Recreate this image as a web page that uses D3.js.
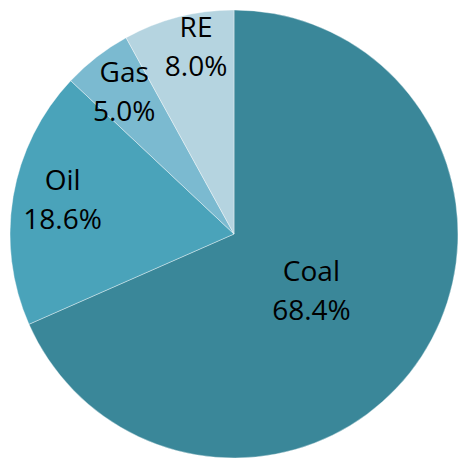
<!DOCTYPE html>
<html>
<head>
<meta charset="utf-8">
<script src="https://cdn.jsdelivr.net/npm/d3@7/dist/d3.min.js"></script>
<style>
  html, body { margin: 0; padding: 0; background: #ffffff; }
  svg { display: block; }
  .lbl { font-family: "Open Sans", "Noto Sans", sans-serif; font-size: 28px; fill: #000; }
</style>
</head>
<body>
<svg id="chart" width="461" height="462"></svg>
<script>
// Energy mix shares (percent)
const categories = ["Coal", "Oil", "Gas", "RE"];
const shares = [68.4, 18.6, 5.0, 8.0];
const colors = ["#3a8799", "#4aa3ba", "#7bbad0", "#b5d4e0"];
// label placement: radius as a fraction of the pie radius, and a small angular nudge (degrees)
const labelRadius = [0.43, 0.78, 0.80, 0.85];
const labelNudge = [3.4, 1.5, 0, 2.9];

const svg = d3.select("#chart");
const cx = 234, cy = 234, R = 224;

const pie = d3.pie().sort(null).value(d => d.value);
const arcs = pie(categories.map((c, i) => ({ name: c, value: shares[i], i })));
const arc = d3.arc().innerRadius(0).outerRadius(R);

const g = svg.append("g").attr("transform", `translate(${cx},${cy})`);

g.selectAll("path.slice")
  .data(arcs)
  .join("path")
  .attr("class", "slice")
  .attr("d", arc)
  .attr("fill", d => colors[d.data.i])
  .attr("stroke", "#ffffff")
  .attr("stroke-opacity", 0.5)
  .attr("stroke-width", 0.75);

const labels = g.selectAll("g.lbl")
  .data(arcs)
  .join("g")
  .attr("class", "lbl")
  .attr("transform", d => {
    const r = R * labelRadius[d.data.i];
    const a = (d.startAngle + d.endAngle) / 2 + labelNudge[d.data.i] * Math.PI / 180;
    return `translate(${r * Math.sin(a)},${-r * Math.cos(a)})`;
  });

labels.append("text")
  .attr("class", "lbl")
  .attr("text-anchor", "middle")
  .attr("y", -10)
  .text(d => d.data.name);

labels.append("text")
  .attr("class", "lbl")
  .attr("text-anchor", "middle")
  .attr("y", 29)
  .text(d => d3.format(".1f")(d.data.value) + "%");
</script>
</body>
</html>
